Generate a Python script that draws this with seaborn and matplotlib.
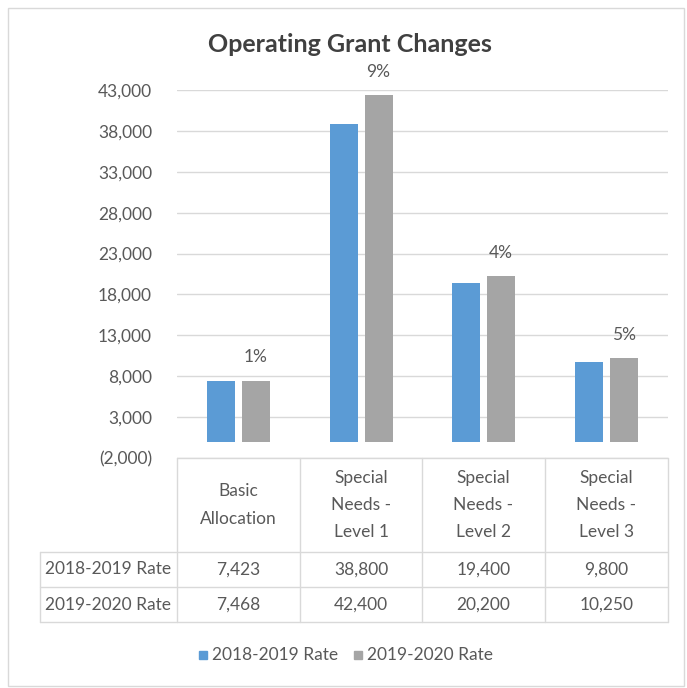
import pandas as pd
import matplotlib
matplotlib.use("Agg")
import matplotlib.pyplot as plt
import seaborn as sns
from matplotlib.patches import Rectangle
from matplotlib.lines import Line2D

# datos del grafico
categories = ["Basic\nAllocation", "Special\nNeeds -\nLevel 1", "Special\nNeeds -\nLevel 2", "Special\nNeeds -\nLevel 3"]
series_names = ["2018-2019 Rate", "2019-2020 Rate"]
rate_2018 = [7423, 38800, 19400, 9800]
rate_2019 = [7468, 42400, 20200, 10250]
pct_labels = ["1%", "9%", "4%", "5%"]
y_ticks = [-2000, 3000, 8000, 13000, 18000, 23000, 28000, 33000, 38000, 43000]

colors = ["#5B9BD5", "#A5A5A5"]
txt = "#595959"
grid_c = "#D9D9D9"

sns.set_style("white")
plt.rcParams["font.family"] = ["Lato", "DejaVu Sans"]

df = pd.DataFrame({
    "cat": categories * 2,
    "serie": [series_names[0]] * 4 + [series_names[1]] * 4,
    "valor": rate_2018 + rate_2019,
})

W, H = 687, 688
fig = plt.figure(figsize=(W / 100, H / 100), dpi=100)

def fx(px):
    return px / W

def fy(py):
    return 1 - py / H

# ejes del grafico
x0, x1, ytop, ybot = 177, 668, 90, 458
ax = fig.add_axes([fx(x0), fy(ybot), fx(x1) - fx(x0), fy(ytop) - fy(ybot)])
sns.barplot(data=df, x="cat", y="valor", hue="serie", palette=colors,
            width=0.57, gap=0.2, ax=ax, legend=False, saturation=1, linewidth=0)
ax.set_xlim(-0.5, 3.5)
ax.set_ylim(-2000, 43000)
ax.set_yticks(y_ticks)
ax.set_yticklabels([f"({abs(v):,})" if v < 0 else f"{v:,}" for v in y_ticks],
                   fontsize=12.5, color=txt)
ax.tick_params(axis="y", length=0, pad=18)
ax.set_xticks([])
ax.set_xlabel("")
ax.set_ylabel("")
for v in y_ticks:
    ax.axhline(v, color=grid_c, lw=1, zorder=0)
for s in ax.spines.values():
    s.set_visible(False)

# etiquetas de porcentaje sobre las barras grises
for i, (v, lab) in enumerate(zip(rate_2019, pct_labels)):
    ax.annotate(lab, (i + 0.14, v), xytext=(0, 11), textcoords="offset points",
                ha="center", va="bottom", fontsize=12.5, color=txt)

fig.text(fx(350), fy(44), "Operating Grant Changes", ha="center", va="center",
         fontsize=18, fontweight="bold", color="#404040")

# tabla de datos
col_x = [177, 300, 422, 545, 668]
rows_y = [458, 552, 587, 622]
lw = 1
def hline(y, xa, xb):
    fig.add_artist(Line2D([fx(xa), fx(xb)], [fy(y), fy(y)], color=grid_c, lw=lw))
def vline(x, ya, yb):
    fig.add_artist(Line2D([fx(x), fx(x)], [fy(ya), fy(yb)], color=grid_c, lw=lw))

hline(458, 177, 668)
for y in rows_y[1:]:
    hline(y, 40, 668)
for x in col_x:
    vline(x, 458, 622)
vline(40, 552, 622)

for i, cat in enumerate(categories):
    cx = (col_x[i] + col_x[i + 1]) / 2
    fig.text(fx(cx), fy(505), cat, ha="center", va="center", fontsize=12.5,
             color=txt, linespacing=1.85)
    fig.text(fx(cx), fy(569.5), f"{rate_2018[i]:,}", ha="center", va="center",
             fontsize=12.5, color=txt)
    fig.text(fx(cx), fy(604.5), f"{rate_2019[i]:,}", ha="center", va="center",
             fontsize=12.5, color=txt)
fig.text(fx(45), fy(569.5), series_names[0], ha="left", va="center", fontsize=12.5, color=txt)
fig.text(fx(45), fy(604.5), series_names[1], ha="left", va="center", fontsize=12.5, color=txt)

# leyenda
for sx, c, name in [(203, colors[0], series_names[0]), (358, colors[1], series_names[1])]:
    fig.add_artist(Rectangle((fx(sx - 4), fy(659)), fx(8), 8 / H, color=c,
                             transform=fig.transFigure))
    fig.text(fx(sx + 9), fy(655), name, ha="left", va="center", fontsize=12.5, color=txt)

# borde exterior
fig.add_artist(Rectangle((fx(8), fy(686)), fx(676), fy(8) - fy(686), fill=False,
                         edgecolor=grid_c, lw=1, transform=fig.transFigure))

fig.savefig("out.png", dpi=100)
